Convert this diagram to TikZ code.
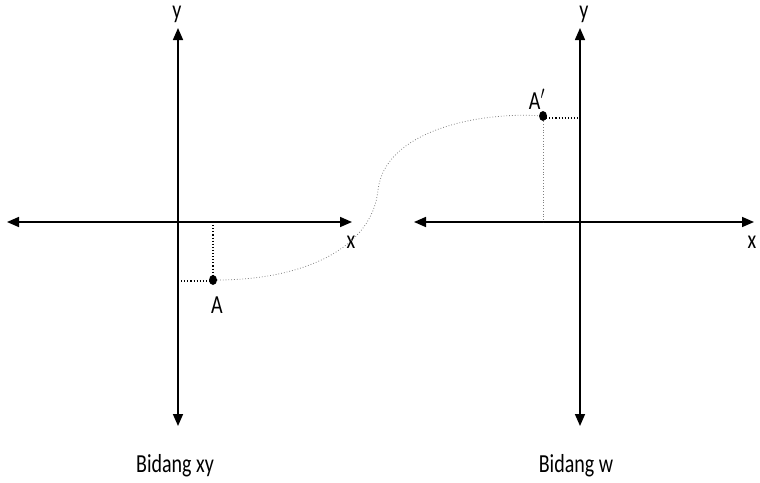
\documentclass[tikz,border=0pt]{standalone}
\usepackage{fontspec}
\setmainfont{Carlito}
\usetikzlibrary{arrows.meta,shapes.geometric}
\newcommand{\tall}[1]{\scalebox{1}[1.3]{#1}}
\tikzset{
  ax/.style={{Triangle[length=12pt,width=10pt]}-{Triangle[length=12pt,width=10pt]}, line width=1.6pt},
  guide/.style={dotted, line width=1.1pt},
  faint/.style={dotted, line width=0.8pt, black!50},
  lab/.style={font=\fontsize{20}{22}\selectfont, inner sep=0pt},
  pt/.style={ellipse, fill, inner sep=0pt, minimum width=8pt, minimum height=10pt}
}
\begin{document}
\begin{tikzpicture}[x=1pt,y=-1pt]
  \useasboundingbox (0,0) rectangle (760,482);
  % left plane
  \coordinate (lt) at (178,28); \coordinate (lb) at (178,426);
  \coordinate (ll) at (7,222);  \coordinate (lr) at (352,222);
  \draw[ax] (lb) -- (lt);
  \draw[ax] (ll) -- (lr);
  \node[lab] (ly) at (177,14) {\tall{y}};
  \node[lab] (lx) at (351,242) {\tall{x}};
  \node[pt] (a) at (213,280) {};
  \coordinate (ax) at (213,222); \coordinate (ay) at (178,281);
  \draw[guide] (ax) -- (a);
  \draw[guide] (ay) -- (ay -| a);
  \node[lab] (la) at (217,305) {\tall{A}};
  % right plane
  \coordinate (rt) at (580,28); \coordinate (rb) at (580,426);
  \coordinate (rl) at (414,222); \coordinate (rr) at (754,222);
  \draw[ax] (rb) -- (rt);
  \draw[ax] (rl) -- (rr);
  \node[lab] (ry) at (584,14) {\tall{y}};
  \node[lab] (rx) at (752,242) {\tall{x}};
  \node[pt] (b) at (543,116) {};
  \coordinate (bx) at (543,222); \coordinate (by) at (580,118);
  \draw[faint] (b) -- (bx);
  \draw[guide] (by -| b) -- (by);
  \node[lab] (lb2) at (537,99) {\tall{A$'$}};
  % mapping curve
  \coordinate (m) at (378,190);
  \draw[faint] (a) .. controls (300,280) and (372,250) .. (m)
    .. controls (385,130) and (480,112) .. (b);
  \node[lab] (cap1) at (175,466) {\tall{Bidang xy}};
  \node[lab] (cap2) at (576,466) {\tall{Bidang w}};
\end{tikzpicture}
\end{document}
